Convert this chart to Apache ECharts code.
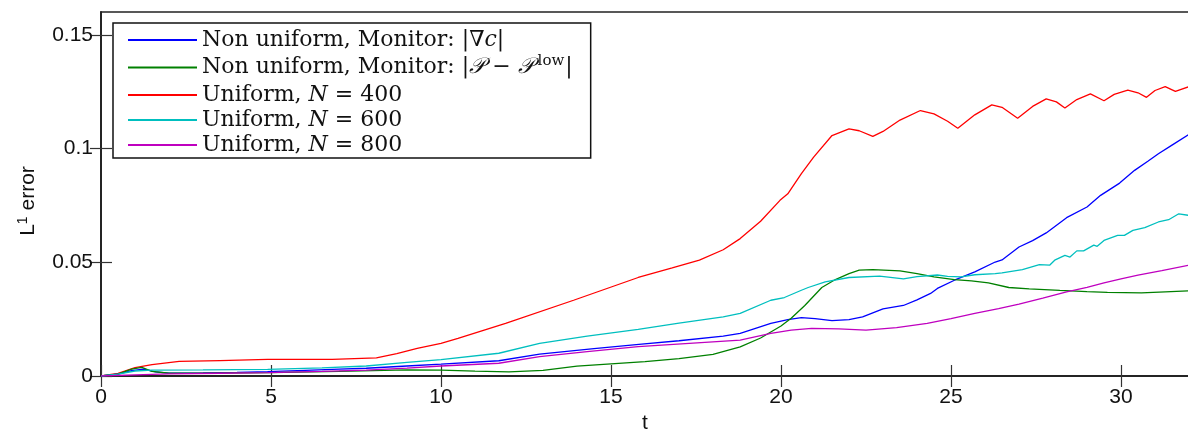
<!DOCTYPE html>
<html>
<head>
<meta charset="utf-8">
<script src="https://cdn.jsdelivr.net/npm/echarts@6/dist/echarts.min.js"></script>
<style>
html,body{margin:0;padding:0;background:#fff;overflow:hidden;}
#chart{width:1188px;height:434px;}
</style>
</head>
<body>
<div id="chart"></div>
<script>
// ---- data (t, L1 error) ----
const seriesNames = [
  'Non uniform, Monitor: grad c',
  'Non uniform, Monitor: P - Plow',
  'Uniform, N = 400',
  'Uniform, N = 600',
  'Uniform, N = 800'
];
const nonUniformGrad = [
  [0,0],[0.5,0.0008],[0.9,0.0024],[1.25,0.003],[1.6,0.0018],[2,0.0013],[3,0.0014],[4,0.0016],[4.9,0.0019],
  [6,0.0025],[7,0.003],[7.8,0.0034],[9,0.0044],[10,0.0052],[11.7,0.0067],[12.9,0.0096],[14.5,0.012],
  [15.9,0.014],[17,0.0155],[18.3,0.0175],[18.8,0.0187],[19.7,0.0231],[20.2,0.0248],[20.6,0.0257],
  [21.0,0.0252],[21.5,0.0243],[22.0,0.0248],[22.4,0.026],[23.0,0.0295],[23.6,0.031],[24.0,0.0335],
  [24.4,0.0363],[24.6,0.0385],[25.1,0.0421],[25.7,0.0458],[26.3,0.0501],[26.5,0.051],[27.0,0.0567],
  [27.4,0.0595],[27.8,0.0629],[28.4,0.0696],[29.0,0.0743],[29.4,0.0794],[29.96,0.0848],[30.4,0.0904],
  [30.8,0.0945],[31.1,0.0977],[31.5,0.1015],[32,0.1062]
];
const nonUniformP = [
  [0,0],[0.5,0.0008],[0.9,0.003],[1.2,0.0038],[1.5,0.002],[2,0.0012],[3,0.0012],[5,0.0015],[7,0.002],
  [8,0.0024],[9,0.0027],[10,0.0026],[11,0.0021],[12,0.0018],[13,0.0025],[14,0.0043],[15,0.0053],
  [16,0.0063],[17,0.0076],[18,0.0095],[18.8,0.0128],[19.4,0.0167],[20,0.022],[20.3,0.0254],[20.7,0.031],
  [21.2,0.0389],[21.6,0.0424],[22,0.045],[22.3,0.0465],[22.7,0.0468],[23.5,0.0462],[24,0.045],
  [24.5,0.0436],[25.1,0.0424],[25.6,0.0418],[26.1,0.0409],[26.7,0.0389],[27.3,0.0383],[28.2,0.0376],
  [29,0.0371],[29.6,0.0368],[30.6,0.0365],[31.3,0.037],[32,0.0374]
];
const uniform400 = [
  [0,0],[0.5,0.0012],[1.0,0.0037],[1.5,0.005],[2.3,0.0064],[3.5,0.0068],[4.9,0.0073],[6,0.0073],
  [6.8,0.0073],[8.1,0.008],[8.7,0.0098],[9.3,0.0121],[10,0.0143],[10.5,0.0165],[11.9,0.0231],
  [13.9,0.0333],[15.8,0.0433],[16.8,0.0475],[17.6,0.0509],[18.3,0.0555],[18.8,0.0604],[19.4,0.068],
  [19.97,0.0772],[20.2,0.0801],[20.6,0.089],[20.96,0.0962],[21.5,0.1057],[22.0,0.1086],[22.3,0.1078],
  [22.7,0.1053],[23.0,0.1075],[23.5,0.1125],[24.1,0.1167],[24.5,0.1152],[24.9,0.112],[25.2,0.1089],
  [25.7,0.1148],[26.2,0.1192],[26.5,0.1181],[26.96,0.1133],[27.4,0.1185],[27.8,0.1218],[28.1,0.1205],
  [28.35,0.1178],[28.7,0.1215],[29.1,0.124],[29.5,0.121],[29.8,0.1238],[30.2,0.1257],[30.5,0.1245],
  [30.75,0.1225],[31.0,0.1255],[31.3,0.1272],[31.6,0.1251],[32,0.1272]
];
const uniform600 = [
  [0,0],[0.5,0.0008],[1.0,0.0022],[1.5,0.0026],[3,0.0027],[4.9,0.0029],[6.5,0.0036],[7.8,0.0044],
  [9,0.006],[10,0.0072],[11.7,0.01],[12.9,0.0143],[14.3,0.0175],[15.8,0.0205],[17,0.0232],[18.3,0.026],
  [18.8,0.0275],[19.7,0.0333],[20.1,0.0345],[20.6,0.0377],[20.8,0.0389],[21.3,0.0414],[22.0,0.0433],
  [22.9,0.0439],[23.6,0.0427],[24.0,0.0437],[24.6,0.0444],[24.9,0.0438],[25.3,0.0436],[25.7,0.0445],
  [26.3,0.045],[26.5,0.0453],[27.1,0.0468],[27.6,0.049],[27.9,0.0487],[28.05,0.0509],[28.35,0.053],
  [28.5,0.0523],[28.7,0.055],[28.9,0.055],[29.2,0.0575],[29.3,0.057],[29.5,0.0596],[29.9,0.0618],
  [30.1,0.0618],[30.35,0.064],[30.7,0.0652],[31.1,0.0677],[31.4,0.0687],[31.7,0.0713],[32,0.0706]
];
const uniform800 = [
  [0,0],[1,0.0005],[2,0.0009],[3.5,0.0012],[4.9,0.0015],[6.5,0.002],[7.8,0.0026],[9,0.0035],
  [10,0.0044],[11.7,0.0056],[12.9,0.0085],[14.3,0.0107],[15.8,0.0129],[17.3,0.0143],[18.8,0.0158],
  [19.7,0.0187],[20.3,0.0202],[20.9,0.0209],[21.7,0.0207],[22.5,0.0202],[23.4,0.0213],[24.3,0.0231],
  [25.0,0.0252],[25.7,0.0275],[26.4,0.0296],[27.0,0.0316],[27.7,0.0342],[28.4,0.037],[29.0,0.039],
  [29.5,0.0409],[30.0,0.0427],[30.5,0.0443],[31.2,0.0463],[32,0.0487]
];
const xTicks = [0,5,10,15,20,25,30];
const yTicks = [0,0.05,0.1,0.15];

const colors = ['#0000ff','#008000','#ff0000','#00bfbf','#bf00bf'];
const allData = [nonUniformGrad, nonUniformP, uniform400, uniform600, uniform800];

const legendLabels = {
  [seriesNames[0]]: '{r|Non uniform, Monitor: |∇}{i|c}{r||}',
  [seriesNames[1]]: '{b|Non uniform, Monitor: |}{bi|𝒫}{b| − }{bi|𝒫}{sup|low}{b||}',
  [seriesNames[2]]: '{r|Uniform, }{i|N}{r| = 400}',
  [seriesNames[3]]: '{r|Uniform, }{i|N}{r| = 600}',
  [seriesNames[4]]: '{r|Uniform, }{i|N}{r| = 800}'
};

const serif = '"DejaVu Serif", "Liberation Serif", serif';
const sans = '"Liberation Sans", Arial, sans-serif';

const chart = echarts.init(document.getElementById('chart'), null, {renderer:'canvas'});

function yFmt(v){ return String(+v.toFixed(2)); }

const tickStyle = {show:true, inside:true, length:11, lineStyle:{color:'#333', width:1.2}};
const FS = 22;
function txt(lh, italic){
  return {fontFamily:serif, fontSize:FS, color:'#111', lineHeight:lh, fontStyle: italic ? 'italic' : 'normal'};
}
const richStyles = {
  b:txt(27,false), bi:txt(27,true),
  r:txt(22.5,false), i:txt(22.5,true),
  sup:{fontFamily:serif, fontSize:15, color:'#111', lineHeight:15, verticalAlign:'top', padding:[0,1,12,4]}
};

chart.setOption({
  animation:false,
  backgroundColor:'#fff',
  color: colors,
  grid:{left:101, right:-1, top:12, bottom:58, show:true, borderColor:'#222', borderWidth:1.5,
        backgroundColor:'transparent', containLabel:false, outerBoundsMode:'none'},
  legend:{
    show:true, orient:'vertical', left:113, top:23,
    data: seriesNames,
    itemWidth:69, itemHeight:14, itemGap:3,
    padding:[6,18,2,14],
    backgroundColor:'#fff', borderColor:'#111', borderWidth:1.5,
    itemStyle:{opacity:0},
    formatter: name => legendLabels[name],
    textStyle:{fontFamily: serif, fontSize:FS, color:'#111', rich:richStyles}
  },
  xAxis:[
    {type:'value', min:0, max:32, interval:5, position:'bottom',
     name:'t', nameLocation:'middle', nameGap:36,
     nameTextStyle:{fontFamily:sans, fontSize:21, color:'#111'},
     axisLine:{show:true, lineStyle:{color:'#222', width:1.5}},
     axisTick:Object.assign({customValues:xTicks}, tickStyle),
     axisLabel:{show:true, customValues:xTicks, margin:11, fontFamily:sans, fontSize:21, color:'#111'},
     splitLine:{show:false}},
    {type:'value', min:0, max:32, interval:5, position:'top',
     axisLine:{show:true, lineStyle:{color:'#222', width:1.5}},
     axisTick:Object.assign({customValues:xTicks}, tickStyle), axisLabel:{show:false}, splitLine:{show:false}}
  ],
  yAxis:[
    {type:'value', min:0, max:0.16, interval:0.05, position:'left',
     name:'{b|L}{s|1}{b| error}', nameLocation:'middle', nameGap:61, nameRotate:90,
     nameTextStyle:{fontFamily:sans, fontSize:21, color:'#111', padding:[0,14,0,0],
       rich:{b:{fontFamily:sans, fontSize:21, color:'#111', lineHeight:24},
             s:{fontFamily:sans, fontSize:14, color:'#111', lineHeight:14, verticalAlign:'top'}}},
     axisLine:{show:true, lineStyle:{color:'#222', width:1.5}},
     axisTick:Object.assign({customValues:yTicks}, tickStyle),
     axisLabel:{show:true, customValues:yTicks, formatter:yFmt, margin:8, fontFamily:sans, fontSize:21, color:'#111'},
     splitLine:{show:false}},
    {type:'value', min:0, max:0.16, interval:0.05, position:'right',
     axisLine:{show:true, lineStyle:{color:'#222', width:1.5}},
     axisTick:Object.assign({customValues:yTicks}, tickStyle), axisLabel:{show:false}, splitLine:{show:false}}
  ],
  series: seriesNames.map((n, i) => ({
    name:n, type:'line', data: allData[i], xAxisIndex:0, yAxisIndex:0,
    symbol:'none', smooth:false, z: 2 + (i===2?0:1),
    lineStyle:{color:colors[i], width:1.3},
    itemStyle:{color:colors[i]}
  }))
});
</script>
</body>
</html>
